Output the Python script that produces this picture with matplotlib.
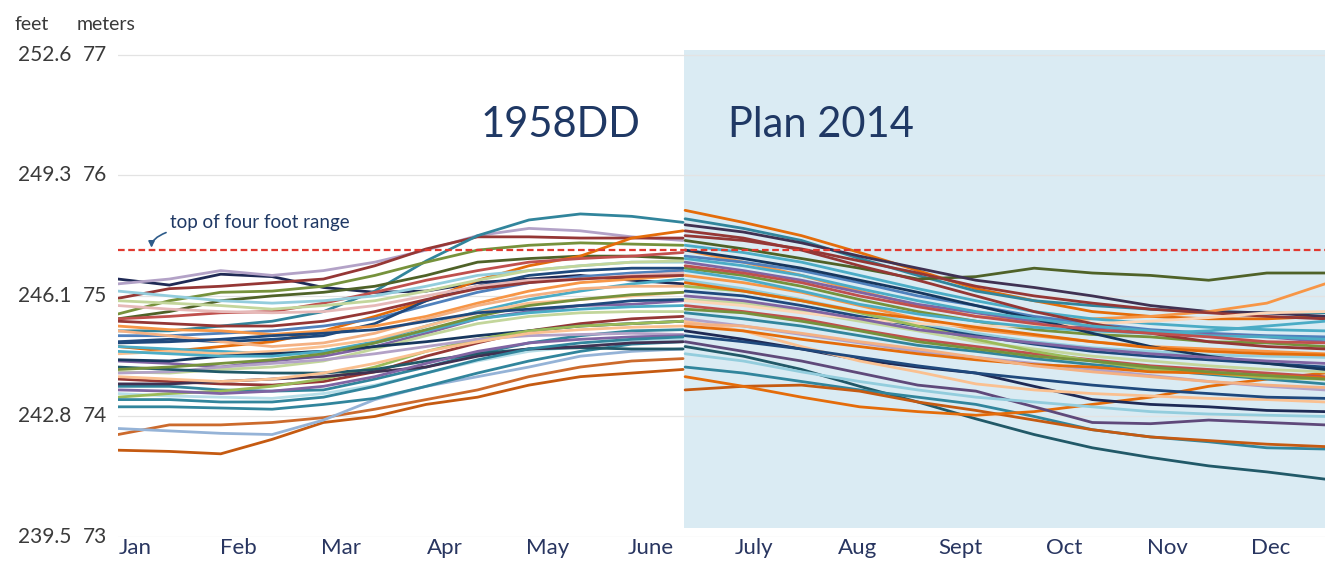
import matplotlib
matplotlib.use("Agg")
import matplotlib.pyplot as plt
import matplotlib.transforms as mtransforms
import numpy as np

plt.rcParams['font.family'] = ['Lato', 'DejaVu Sans']

# lake level, metres, about every half month
# 1958DD: Jan 1 .. end of June
levels_1958dd = [
    [73.72, 73.71, 73.69, 73.81, 73.95, 74.00, 74.10, 74.16, 74.26, 74.33, 74.36, 74.39],
    [73.85, 73.93, 73.93, 73.95, 73.99, 74.06, 74.14, 74.22, 74.33, 74.41, 74.46, 74.48],
    [73.90, 73.88, 73.86, 73.85, 73.97, 74.14, 74.25, 74.33, 74.41, 74.50, 74.54, 74.56],
    [74.08, 74.08, 74.07, 74.06, 74.10, 74.15, 74.25, 74.36, 74.46, 74.54, 74.60, 74.62],
    [75.14, 75.09, 75.18, 75.16, 75.07, 75.03, 75.04, 75.11, 75.14, 75.17, 75.13, 75.10],
    [75.10, 75.14, 75.21, 75.17, 75.21, 75.28, 75.38, 75.50, 75.56, 75.54, 75.49, 75.46],
    [74.98, 75.06, 75.08, 75.11, 75.14, 75.25, 75.39, 75.49, 75.49, 75.48, 75.48, 75.48],
    [74.71, 74.71, 74.75, 74.79, 74.87, 75.04, 75.29, 75.50, 75.63, 75.68, 75.66, 75.61],
    [74.85, 74.96, 75.03, 75.04, 75.08, 75.17, 75.28, 75.38, 75.42, 75.44, 75.43, 75.42],
    [74.81, 74.87, 74.96, 75.00, 75.03, 75.08, 75.17, 75.28, 75.31, 75.33, 75.33, 75.31],
    [74.58, 74.54, 74.58, 74.62, 74.71, 74.83, 74.96, 75.13, 75.25, 75.33, 75.48, 75.54],
    [74.81, 74.83, 74.86, 74.87, 74.94, 75.03, 75.13, 75.21, 75.28, 75.31, 75.33, 75.36],
    [75.04, 75.00, 74.96, 74.94, 74.96, 75.00, 75.08, 75.17, 75.21, 75.25, 75.28, 75.28],
    [74.67, 74.67, 74.69, 74.71, 74.75, 74.81, 74.92, 75.03, 75.11, 75.16, 75.19, 75.21],
    [74.62, 74.64, 74.62, 74.64, 74.67, 74.77, 74.96, 75.08, 75.17, 75.21, 75.23, 75.23],
    [74.58, 74.56, 74.54, 74.52, 74.54, 74.62, 74.75, 74.87, 74.97, 75.04, 75.10, 75.14],
    [74.52, 74.54, 74.52, 74.54, 74.58, 74.64, 74.75, 74.86, 74.94, 74.97, 75.00, 75.03],
    [74.46, 74.44, 74.41, 74.46, 74.50, 74.58, 74.69, 74.81, 74.87, 74.92, 74.93, 74.96],
    [74.37, 74.36, 74.39, 74.41, 74.46, 74.56, 74.67, 74.77, 74.83, 74.86, 74.87, 74.87],
    [74.31, 74.29, 74.27, 74.26, 74.29, 74.37, 74.50, 74.61, 74.71, 74.77, 74.81, 74.83],
    [74.25, 74.25, 74.22, 74.21, 74.22, 74.31, 74.41, 74.52, 74.61, 74.67, 74.71, 74.72],
    [74.19, 74.17, 74.16, 74.15, 74.19, 74.26, 74.36, 74.46, 74.54, 74.58, 74.62, 74.64],
    [74.47, 74.46, 74.50, 74.52, 74.54, 74.58, 74.62, 74.67, 74.71, 74.75, 74.77, 74.79],
    [74.75, 74.72, 74.71, 74.68, 74.71, 74.75, 74.83, 74.94, 75.04, 75.11, 75.14, 75.17],
    [74.16, 74.19, 74.21, 74.25, 74.31, 74.41, 74.54, 74.64, 74.71, 74.75, 74.77, 74.79],
    [74.36, 74.37, 74.41, 74.44, 74.47, 74.52, 74.58, 74.64, 74.67, 74.68, 74.69, 74.68],
    [74.41, 74.39, 74.37, 74.36, 74.36, 74.39, 74.46, 74.52, 74.56, 74.57, 74.56, 74.56],
    [74.27, 74.27, 74.29, 74.31, 74.33, 74.37, 74.41, 74.50, 74.56, 74.58, 74.61, 74.62],
    [74.92, 74.89, 74.87, 74.86, 74.87, 74.92, 75.00, 75.08, 75.13, 75.14, 75.17, 75.19],
    [74.96, 74.94, 74.92, 74.89, 74.92, 74.96, 75.04, 75.13, 75.21, 75.25, 75.28, 75.29],
    [74.71, 74.67, 74.62, 74.58, 74.61, 74.69, 74.81, 74.92, 75.00, 75.06, 75.08, 75.08],
    [74.54, 74.52, 74.50, 74.50, 74.54, 74.61, 74.71, 74.81, 74.86, 74.89, 74.91, 74.92],
    [74.39, 74.41, 74.44, 74.47, 74.52, 74.61, 74.72, 74.83, 74.92, 74.97, 75.01, 75.03],
    [74.22, 74.21, 74.19, 74.21, 74.25, 74.33, 74.44, 74.54, 74.61, 74.64, 74.66, 74.67],
    [74.61, 74.62, 74.64, 74.67, 74.69, 74.72, 74.79, 74.86, 74.89, 74.92, 74.96, 74.97],
    [74.33, 74.31, 74.29, 74.31, 74.36, 74.44, 74.54, 74.62, 74.69, 74.72, 74.74, 74.75],
    [74.79, 74.77, 74.75, 74.75, 74.79, 74.87, 74.97, 75.06, 75.11, 75.14, 75.16, 75.17],
    [74.14, 74.14, 74.12, 74.12, 74.16, 74.25, 74.36, 74.47, 74.56, 74.61, 74.64, 74.66],
]
colors_1958dd = ['#C55A11', '#CC6A2C', '#95B3D7', '#31859C', '#1F2A55', '#B3A2C7',
                 '#953735', '#31859C', '#76923C', '#4F6228', '#E46C0A', '#C0504D',
                 '#93CDDD', '#4F81BD', '#1F497D', '#4BACC6', '#FAC090', '#8064A2',
                 '#C3D69B', '#953735', '#31859C', '#B7DEE8', '#17375E', '#F79646',
                 '#9BBB59', '#B3A2C7', '#215968', '#403152', '#E6B9B8', '#C3D69B',
                 '#F4B183', '#4BACC6', '#76923C', '#8064A2', '#1F497D', '#FAC090',
                 '#953735', '#31859C']

# Plan 2014: July 1 .. end of December
levels_plan2014 = [
    [75.71, 75.61, 75.50, 75.36, 75.21, 75.06, 74.96, 74.87, 74.83, 74.81, 74.81, 74.83],
    [75.64, 75.56, 75.46, 75.31, 75.17, 75.04, 74.96, 74.92, 74.89, 74.87, 74.86, 74.86],
    [75.46, 75.39, 75.31, 75.23, 75.14, 75.16, 75.23, 75.19, 75.17, 75.13, 75.19, 75.19],
    [75.59, 75.53, 75.44, 75.33, 75.23, 75.13, 75.07, 75.00, 74.92, 74.87, 74.86, 74.83],
    [75.38, 75.28, 75.17, 75.04, 74.92, 74.83, 74.79, 74.81, 74.83, 74.87, 74.94, 75.10],
    [74.58, 74.50, 74.39, 74.25, 74.12, 73.98, 73.85, 73.74, 73.66, 73.59, 73.54, 73.48],
    [74.41, 74.36, 74.29, 74.22, 74.16, 74.10, 74.00, 73.89, 73.83, 73.79, 73.74, 73.73],
    [74.22, 74.25, 74.26, 74.21, 74.12, 74.05, 73.97, 73.89, 73.83, 73.80, 73.77, 73.75],
    [74.33, 74.25, 74.16, 74.08, 74.04, 74.01, 74.04, 74.10, 74.16, 74.25, 74.31, 74.36],
    [74.62, 74.54, 74.46, 74.36, 74.26, 74.21, 74.08, 73.95, 73.94, 73.97, 73.95, 73.93],
    [74.71, 74.64, 74.56, 74.47, 74.41, 74.36, 74.25, 74.14, 74.10, 74.08, 74.05, 74.04],
    [74.79, 74.71, 74.58, 74.46, 74.37, 74.27, 74.22, 74.19, 74.17, 74.15, 74.14, 74.12],
    [75.50, 75.46, 75.39, 75.29, 75.19, 75.08, 75.00, 74.94, 74.89, 74.86, 74.83, 74.81],
    [75.42, 75.36, 75.28, 75.17, 75.06, 74.96, 74.87, 74.81, 74.77, 74.74, 74.72, 74.71],
    [75.33, 75.28, 75.21, 75.11, 75.00, 74.92, 74.83, 74.77, 74.72, 74.69, 74.67, 74.66],
    [75.28, 75.21, 75.13, 75.03, 74.93, 74.86, 74.79, 74.74, 74.71, 74.68, 74.66, 74.62],
    [75.23, 75.17, 75.08, 74.97, 74.87, 74.79, 74.72, 74.68, 74.66, 74.62, 74.61, 74.58],
    [75.17, 75.11, 75.03, 74.92, 74.81, 74.72, 74.67, 74.62, 74.58, 74.56, 74.54, 74.52],
    [75.13, 75.06, 74.97, 74.87, 74.77, 74.69, 74.62, 74.57, 74.54, 74.51, 74.50, 74.49],
    [75.04, 75.00, 74.92, 74.83, 74.75, 74.67, 74.60, 74.54, 74.50, 74.47, 74.44, 74.41],
    [74.97, 74.94, 74.87, 74.79, 74.71, 74.62, 74.56, 74.50, 74.46, 74.42, 74.39, 74.37],
    [74.92, 74.87, 74.81, 74.72, 74.64, 74.58, 74.52, 74.47, 74.42, 74.39, 74.36, 74.33],
    [74.86, 74.81, 74.75, 74.67, 74.59, 74.54, 74.48, 74.43, 74.39, 74.35, 74.31, 74.27],
    [74.81, 74.75, 74.68, 74.61, 74.54, 74.49, 74.44, 74.39, 74.34, 74.29, 74.25, 74.22],
    [74.96, 74.92, 74.86, 74.81, 74.77, 74.75, 74.75, 74.77, 74.79, 74.82, 74.86, 74.87],
    [75.08, 75.04, 74.96, 74.86, 74.75, 74.64, 74.54, 74.46, 74.39, 74.36, 74.32, 74.31],
    [75.54, 75.48, 75.38, 75.25, 75.13, 75.00, 74.87, 74.77, 74.69, 74.62, 74.58, 74.56],
    [75.21, 75.14, 75.04, 74.93, 74.85, 74.79, 74.74, 74.71, 74.69, 74.71, 74.75, 74.79],
    [75.38, 75.31, 75.23, 75.13, 75.03, 74.92, 74.81, 74.69, 74.58, 74.50, 74.44, 74.39],
    [74.75, 74.71, 74.64, 74.58, 74.52, 74.47, 74.43, 74.41, 74.37, 74.36, 74.34, 74.32],
    [75.31, 75.25, 75.17, 75.06, 74.96, 74.87, 74.81, 74.75, 74.71, 74.67, 74.66, 74.64],
    [75.11, 75.04, 74.96, 74.87, 74.81, 74.74, 74.68, 74.62, 74.57, 74.54, 74.52, 74.51],
    [75.00, 74.96, 74.89, 74.81, 74.72, 74.66, 74.61, 74.56, 74.52, 74.49, 74.46, 74.44],
    [74.89, 74.86, 74.79, 74.71, 74.62, 74.56, 74.50, 74.46, 74.41, 74.37, 74.34, 74.31],
    [74.77, 74.75, 74.69, 74.62, 74.56, 74.49, 74.42, 74.37, 74.33, 74.29, 74.26, 74.24],
    [74.67, 74.62, 74.56, 74.49, 74.42, 74.36, 74.31, 74.26, 74.22, 74.19, 74.16, 74.15],
    [75.25, 75.19, 75.11, 75.00, 74.91, 74.83, 74.77, 74.72, 74.69, 74.66, 74.62, 74.61],
    [74.52, 74.46, 74.37, 74.29, 74.22, 74.16, 74.12, 74.08, 74.04, 74.02, 74.01, 74.00],
]
colors_plan2014 = ['#E46C0A', '#31859C', '#4F6228', '#403152', '#F79646', '#215968',
                   '#31859C', '#C55A11', '#E46C0A', '#5F497A', '#1F2A55', '#FAC090',
                   '#953735', '#4BACC6', '#4F81BD', '#8064A2', '#76923C', '#F79646',
                   '#93CDDD', '#1F497D', '#C3D69B', '#C0504D', '#31859C', '#B3A2C7',
                   '#FCD5B5', '#9BBB59', '#953735', '#4BACC6', '#17375E', '#E46C0A',
                   '#4BACC6', '#E46C0A', '#8064A2', '#76923C', '#F4B183', '#1F497D',
                   '#C0504D', '#93CDDD']

months = ['Jan', 'Feb', 'Mar', 'Apr', 'May', 'June',
          'July', 'Aug', 'Sept', 'Oct', 'Nov', 'Dec']
meter_ticks = [73, 74, 75, 76, 77]
feet_labels = ['239.5', '242.8', '246.1', '249.3', '252.6']
top_of_range = 75.38   # 247.3 ft

navy = '#1F3864'
grey = '#3A3A3A'

fig = plt.figure(figsize=(13.25, 5.69), dpi=100)
ax = fig.add_axes([118 / 1325, 32 / 569, 1207 / 1325, 487 / 569])
x0, x1, xmid = -0.165, 11.53, 5.32
ax.set_xlim(x0, x1)
ax.set_ylim(73, 77.04)

ax.axvspan(xmid, x1, ymin=0.018, ymax=1, color='#DAEBF3', lw=0, zorder=0)
for m in meter_ticks:
    ax.axhline(m, color='#E3E3E3', lw=0.9, zorder=1)

xl = np.linspace(x0, xmid - 0.01, 12)
xr = np.linspace(xmid + 0.01, x1, 12)
for vals, c in zip(levels_1958dd, colors_1958dd):
    ax.plot(xl, vals, color=c, lw=2.0, solid_capstyle='round', zorder=2)
for vals, c in zip(levels_plan2014, colors_plan2014):
    ax.plot(xr, vals, color=c, lw=2.0, solid_capstyle='round', zorder=2)

ax.axhline(top_of_range, color='#E0392F', lw=1.6, dashes=(3, 1.6), zorder=3)
ax.annotate('top of four foot range', xy=(0.16, top_of_range + 0.02),
            xytext=(0.34, 75.61), fontsize=13.5, color=navy, va='center', ha='left',
            arrowprops=dict(arrowstyle='-|>', color='#2E5C8A', lw=1.2,
                            mutation_scale=9,
                            connectionstyle='angle3,angleA=0,angleB=90',
                            shrinkA=1, shrinkB=0))

ax.text(4.12, 76.42, '1958DD', fontsize=30, color=navy, ha='center', va='center')
ax.text(6.65, 76.42, 'Plan 2014', fontsize=30, color=navy, ha='center', va='center')

for s in ax.spines.values():
    s.set_visible(False)
ax.set_yticks([])
ax.set_xticks(range(12))
ax.set_xticklabels(months, fontsize=16, color='#283560')
ax.tick_params(axis='x', length=0, pad=1)

trans = mtransforms.blended_transform_factory(fig.transFigure, ax.transData)
for m, f in zip(meter_ticks, feet_labels):
    ax.text(71 / 1325, m, f, transform=trans, ha='right', va='center',
            fontsize=15, color=grey)
    ax.text(107 / 1325, m, str(m), transform=trans, ha='right', va='center',
            fontsize=15, color=grey)
fig.text(15 / 1325, 1 - 25 / 569, 'feet', ha='left', va='center', fontsize=14, color=grey)
fig.text(77 / 1325, 1 - 25 / 569, 'meters', ha='left', va='center', fontsize=14, color=grey)

fig.savefig('out.png', dpi=100, facecolor='white')
